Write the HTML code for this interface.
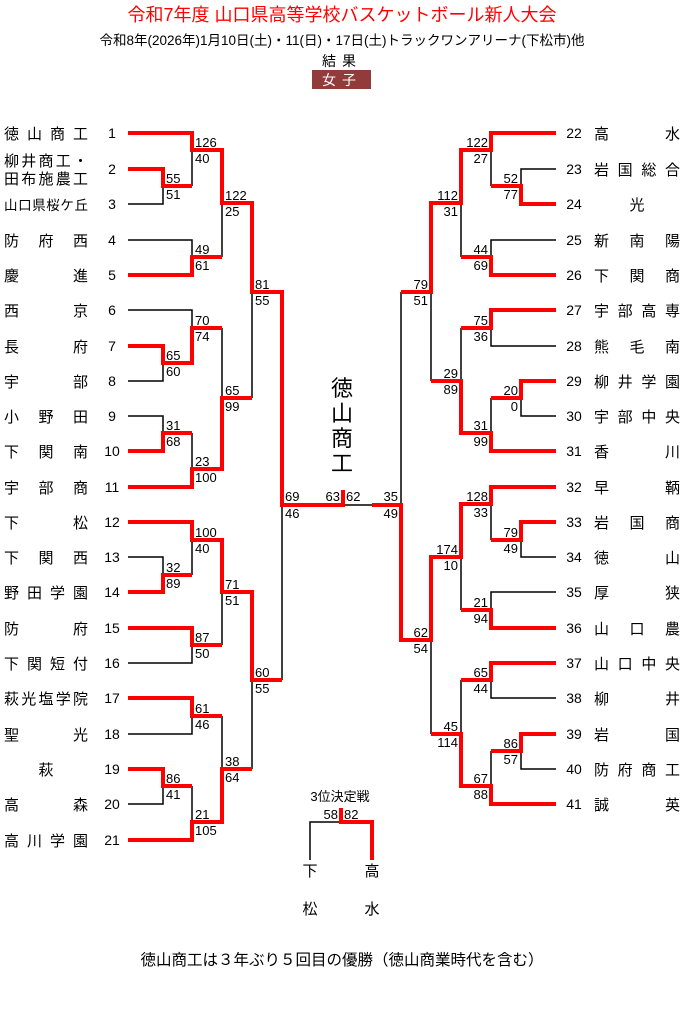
<!DOCTYPE html>
<html><head><meta charset="utf-8"><style>
body{margin:0;background:#fff;}
svg{display:block;font-family:"Liberation Sans","Noto Sans CJK JP",sans-serif;}
.r{fill:none;stroke:#f00;stroke-width:4;}
.b{fill:none;stroke:#000;stroke-width:1.5;}
.s{font-size:13px;fill:#000;}
.n{font-size:14px;fill:#000;}
.t{font-size:15px;fill:#000;}
</style></head><body>
<svg width="684" height="1024" viewBox="0 0 684 1024">
<text x="342" y="21" text-anchor="middle" font-size="18" fill="#f00">令和7年度 山口県高等学校バスケットボール新人大会</text>
<text x="342" y="45" text-anchor="middle" font-size="13.5">令和8年(2026年)1月10日(土)・11(日)・17日(土)トラックワンアリーナ(下松市)他</text>
<text x="342" y="66" text-anchor="middle" font-size="14" letter-spacing="6">結果</text>
<rect x="312" y="70" width="59" height="19" fill="#913b3b"/>
<text x="342" y="85" text-anchor="middle" font-size="14" fill="#fff" letter-spacing="6">女子</text>

<path class="b" d="M128 204H163V186 M192 150V186 M128 240H192V257 M222 203V257 M128 310H192V328 M128 381H163V363 M128 416H163V433 M192 433V469 M222 328V398 M252 292V398 M128 557H163V575 M192 540V575 M128 663H192V645 M222 592V645 M128 734H192V716 M128 804H163V786 M192 786V822 M222 716V769 M252 680V769 M282 505V680 M343 505H372"/>
<path class="b" d="M556 169H521V186 M491 150V186 M556 240H491V257 M461 203V257 M556 346H491V328 M556 416H521V398 M491 398V433 M461 328V381 M431 292V381 M401 292V505 M556 557H521V540 M491 504V540 M556 592H491V610 M461 557V610 M556 698H491V680 M556 769H521V751 M491 751V786 M461 680V734 M431 640V734"/>
<path class="r" d="M128 133H192V150H222V203H252V292H282V505H343V490 M128 169H163V186H192 M128 275H192V257H222 M128 346H163V363H192V328H222 M128 451H163V433H192 M128 487H192V469H222V398H252 M128 522H192V540H222V592H252V680H282 M128 592H163V575H192 M128 628H192V645H222 M128 698H192V716H222 M128 769H163V786H192 M128 840H192V822H222V769H252"/>
<path class="r" d="M556 133H491V150H461V203H431V292H401 M556 204H521V186H491 M556 275H491V257H461 M556 310H491V328H461 M556 381H521V398H491 M556 451H491V433H461V381H431 M556 487H491V504H461V557H431V640H401V505H372 M556 522H521V540H491 M556 628H491V610H461 M556 663H491V680H461 M556 734H521V751H491 M556 804H491V786H461V734H431"/>
<path class="b" d="M310 860V822H341"/>
<path class="r" d="M341 808V822H372V860"/>
<text x="340" y="801" text-anchor="middle" font-size="13">3位決定戦</text>
<text class="s" x="338" y="819" text-anchor="end">58</text>
<text class="s" x="344" y="819">82</text>
<text class="t" x="310" y="876" text-anchor="middle">下</text>
<text class="t" x="310" y="914" text-anchor="middle">松</text>
<text class="t" x="372" y="876" text-anchor="middle">高</text>
<text class="t" x="372" y="914" text-anchor="middle">水</text>

<g font-size="22" text-anchor="middle"><text x="342" y="396">徳</text><text x="342" y="421">山</text><text x="342" y="446">商</text><text x="342" y="471">工</text></g>
<text class="s" x="340" y="501" text-anchor="end">63</text>
<text class="s" x="346" y="501">62</text>

<g class="s">
<text x="166" y="183">55</text><text x="166" y="199">51</text>
<text x="166" y="360">65</text><text x="166" y="376">60</text>
<text x="166" y="430">31</text><text x="166" y="446">68</text>
<text x="166" y="572">32</text><text x="166" y="588">89</text>
<text x="166" y="783">86</text><text x="166" y="799">41</text>
<text x="195" y="147">126</text><text x="195" y="163">40</text>
<text x="195" y="254">49</text><text x="195" y="270">61</text>
<text x="195" y="325">70</text><text x="195" y="341">74</text>
<text x="195" y="466">23</text><text x="195" y="482">100</text>
<text x="195" y="537">100</text><text x="195" y="553">40</text>
<text x="195" y="642">87</text><text x="195" y="658">50</text>
<text x="195" y="713">61</text><text x="195" y="729">46</text>
<text x="195" y="819">21</text><text x="195" y="835">105</text>
<text x="225" y="200">122</text><text x="225" y="216">25</text>
<text x="225" y="395">65</text><text x="225" y="411">99</text>
<text x="225" y="589">71</text><text x="225" y="605">51</text>
<text x="225" y="766">38</text><text x="225" y="782">64</text>
<text x="255" y="289">81</text><text x="255" y="305">55</text>
<text x="255" y="677">60</text><text x="255" y="693">55</text>
<text x="285" y="501">69</text><text x="285" y="518">46</text>
</g>
<g class="s" text-anchor="end">
<text x="518" y="183">52</text><text x="518" y="199">77</text>
<text x="518" y="395">20</text><text x="518" y="411">0</text>
<text x="518" y="537">79</text><text x="518" y="553">49</text>
<text x="518" y="748">86</text><text x="518" y="764">57</text>
<text x="488" y="147">122</text><text x="488" y="163">27</text>
<text x="488" y="254">44</text><text x="488" y="270">69</text>
<text x="488" y="325">75</text><text x="488" y="341">36</text>
<text x="488" y="430">31</text><text x="488" y="446">99</text>
<text x="488" y="501">128</text><text x="488" y="517">33</text>
<text x="488" y="607">21</text><text x="488" y="623">94</text>
<text x="488" y="677">65</text><text x="488" y="693">44</text>
<text x="488" y="783">67</text><text x="488" y="799">88</text>
<text x="458" y="200">112</text><text x="458" y="216">31</text>
<text x="458" y="378">29</text><text x="458" y="394">89</text>
<text x="458" y="554">174</text><text x="458" y="570">10</text>
<text x="458" y="731">45</text><text x="458" y="747">114</text>
<text x="428" y="289">79</text><text x="428" y="305">51</text>
<text x="428" y="637">62</text><text x="428" y="653">54</text>
<text x="398" y="501">35</text><text x="398" y="518">49</text>
</g>

<g class="n" text-anchor="middle">
<text x="112" y="138">1</text><text x="112" y="174">2</text><text x="112" y="209">3</text><text x="112" y="245">4</text><text x="112" y="280">5</text><text x="112" y="315">6</text><text x="112" y="351">7</text><text x="112" y="386">8</text><text x="112" y="421">9</text><text x="112" y="456">10</text><text x="112" y="492">11</text><text x="112" y="527">12</text><text x="112" y="562">13</text><text x="112" y="597">14</text><text x="112" y="633">15</text><text x="112" y="668">16</text><text x="112" y="703">17</text><text x="112" y="739">18</text><text x="112" y="774">19</text><text x="112" y="809">20</text><text x="112" y="845">21</text>
</g>
<g class="t">
<text x="4" y="139" textLength="84" lengthAdjust="spacing">徳山商工</text>
<text x="4" y="166" textLength="84" lengthAdjust="spacing">柳井商工・</text>
<text x="4" y="184" textLength="84" lengthAdjust="spacing">田布施農工</text>
<text x="4" y="210" font-size="13.5" textLength="84" lengthAdjust="spacing">山口県桜ケ丘</text>
<text x="4" y="246" textLength="84" lengthAdjust="spacing">防府西</text>
<text x="4" y="281" textLength="84" lengthAdjust="spacing">慶進</text>
<text x="4" y="316" textLength="84" lengthAdjust="spacing">西京</text>
<text x="4" y="352" textLength="84" lengthAdjust="spacing">長府</text>
<text x="4" y="387" textLength="84" lengthAdjust="spacing">宇部</text>
<text x="4" y="422" textLength="84" lengthAdjust="spacing">小野田</text>
<text x="4" y="457" textLength="84" lengthAdjust="spacing">下関南</text>
<text x="4" y="493" textLength="84" lengthAdjust="spacing">宇部商</text>
<text x="4" y="528" textLength="84" lengthAdjust="spacing">下松</text>
<text x="4" y="563" textLength="84" lengthAdjust="spacing">下関西</text>
<text x="4" y="598" textLength="84" lengthAdjust="spacing">野田学園</text>
<text x="4" y="634" textLength="84" lengthAdjust="spacing">防府</text>
<text x="4" y="669" textLength="84" lengthAdjust="spacing">下関短付</text>
<text x="4" y="704" textLength="84" lengthAdjust="spacing">萩光塩学院</text>
<text x="4" y="740" textLength="84" lengthAdjust="spacing">聖光</text>
<text x="46" y="775" text-anchor="middle">萩</text>
<text x="4" y="810" textLength="84" lengthAdjust="spacing">高森</text>
<text x="4" y="846" textLength="84" lengthAdjust="spacing">高川学園</text>
</g>
<g class="n" text-anchor="middle">
<text x="574" y="138">22</text><text x="574" y="174">23</text><text x="574" y="209">24</text><text x="574" y="245">25</text><text x="574" y="280">26</text><text x="574" y="315">27</text><text x="574" y="351">28</text><text x="574" y="386">29</text><text x="574" y="421">30</text><text x="574" y="456">31</text><text x="574" y="492">32</text><text x="574" y="527">33</text><text x="574" y="562">34</text><text x="574" y="597">35</text><text x="574" y="633">36</text><text x="574" y="668">37</text><text x="574" y="703">38</text><text x="574" y="739">39</text><text x="574" y="774">40</text><text x="574" y="809">41</text>
</g>
<g class="t">
<text x="594" y="139" textLength="86" lengthAdjust="spacing">高水</text>
<text x="594" y="175" textLength="86" lengthAdjust="spacing">岩国総合</text>
<text x="637" y="210" text-anchor="middle">光</text>
<text x="594" y="246" textLength="86" lengthAdjust="spacing">新南陽</text>
<text x="594" y="281" textLength="86" lengthAdjust="spacing">下関商</text>
<text x="594" y="316" textLength="86" lengthAdjust="spacing">宇部高専</text>
<text x="594" y="352" textLength="86" lengthAdjust="spacing">熊毛南</text>
<text x="594" y="387" textLength="86" lengthAdjust="spacing">柳井学園</text>
<text x="594" y="422" textLength="86" lengthAdjust="spacing">宇部中央</text>
<text x="594" y="457" textLength="86" lengthAdjust="spacing">香川</text>
<text x="594" y="493" textLength="86" lengthAdjust="spacing">早鞆</text>
<text x="594" y="528" textLength="86" lengthAdjust="spacing">岩国商</text>
<text x="594" y="563" textLength="86" lengthAdjust="spacing">徳山</text>
<text x="594" y="598" textLength="86" lengthAdjust="spacing">厚狭</text>
<text x="594" y="634" textLength="86" lengthAdjust="spacing">山口農</text>
<text x="594" y="669" textLength="86" lengthAdjust="spacing">山口中央</text>
<text x="594" y="704" textLength="86" lengthAdjust="spacing">柳井</text>
<text x="594" y="740" textLength="86" lengthAdjust="spacing">岩国</text>
<text x="594" y="775" textLength="86" lengthAdjust="spacing">防府商工</text>
<text x="594" y="810" textLength="86" lengthAdjust="spacing">誠英</text>
</g>
<text x="342" y="965" text-anchor="middle" font-size="15.5">徳山商工は３年ぶり５回目の優勝（徳山商業時代を含む）</text>
</svg>
</body></html>
